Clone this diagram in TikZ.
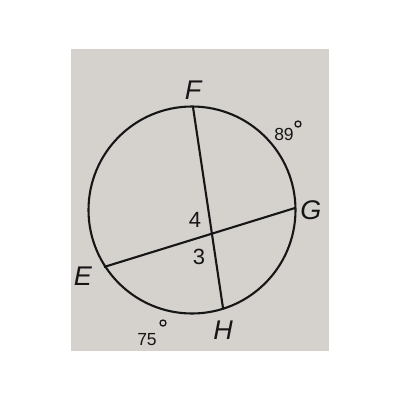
\documentclass[tikz,border=0pt]{standalone}
\usepackage{fontspec}
\setmainfont{Liberation Sans}
\definecolor{photo}{RGB}{213,210,206}
\definecolor{ink}{RGB}{22,22,22}
\begin{document}
\begin{tikzpicture}[x=1pt,y=-1pt,
  lbl/.style={font=\fontsize{27}{27}\selectfont\itshape, text=ink, inner sep=0pt},
  num/.style={font=\fontsize{22}{22}\selectfont, text=ink, inner sep=0pt},
  arcnum/.style={font=\fontsize{17.5}{17.5}\selectfont, text=ink, inner sep=0pt},
  deg/.style={draw=ink, line width=1.3pt, circle, minimum size=6pt, inner sep=0pt},
  seg/.style={draw=ink, line width=2.1pt}]
\useasboundingbox (0,0) rectangle (400,400);
\fill[photo] (71,49) rectangle (329,351);
\coordinate (O) at (192,210);
\draw[seg] (O) circle (103.5);
\coordinate (F) at (193,107);
\coordinate (H) at (223,308);
\coordinate (G) at (295,208);
\coordinate (E) at (104,267);
\draw[seg] (F) -- (H);
\draw[seg] (E) -- (G);
\node[lbl] (lF) at (193,90) {F};
\node[lbl] (lG) at (311,210) {G};
\node[lbl] (lE) at (83,276) {E};
\node[lbl] (lH) at (223,330) {H};
\node[num] (n4) at (195,220) {4};
\node[num] (n3) at (199,257) {3};
\node[arcnum] (a89) at (284,134) {89};
\node[deg] (d89) at (298,124) {};
\node[arcnum] (a75) at (147,340) {75};
\node[deg] (d75) at (163,323) {};
\end{tikzpicture}
\end{document}
